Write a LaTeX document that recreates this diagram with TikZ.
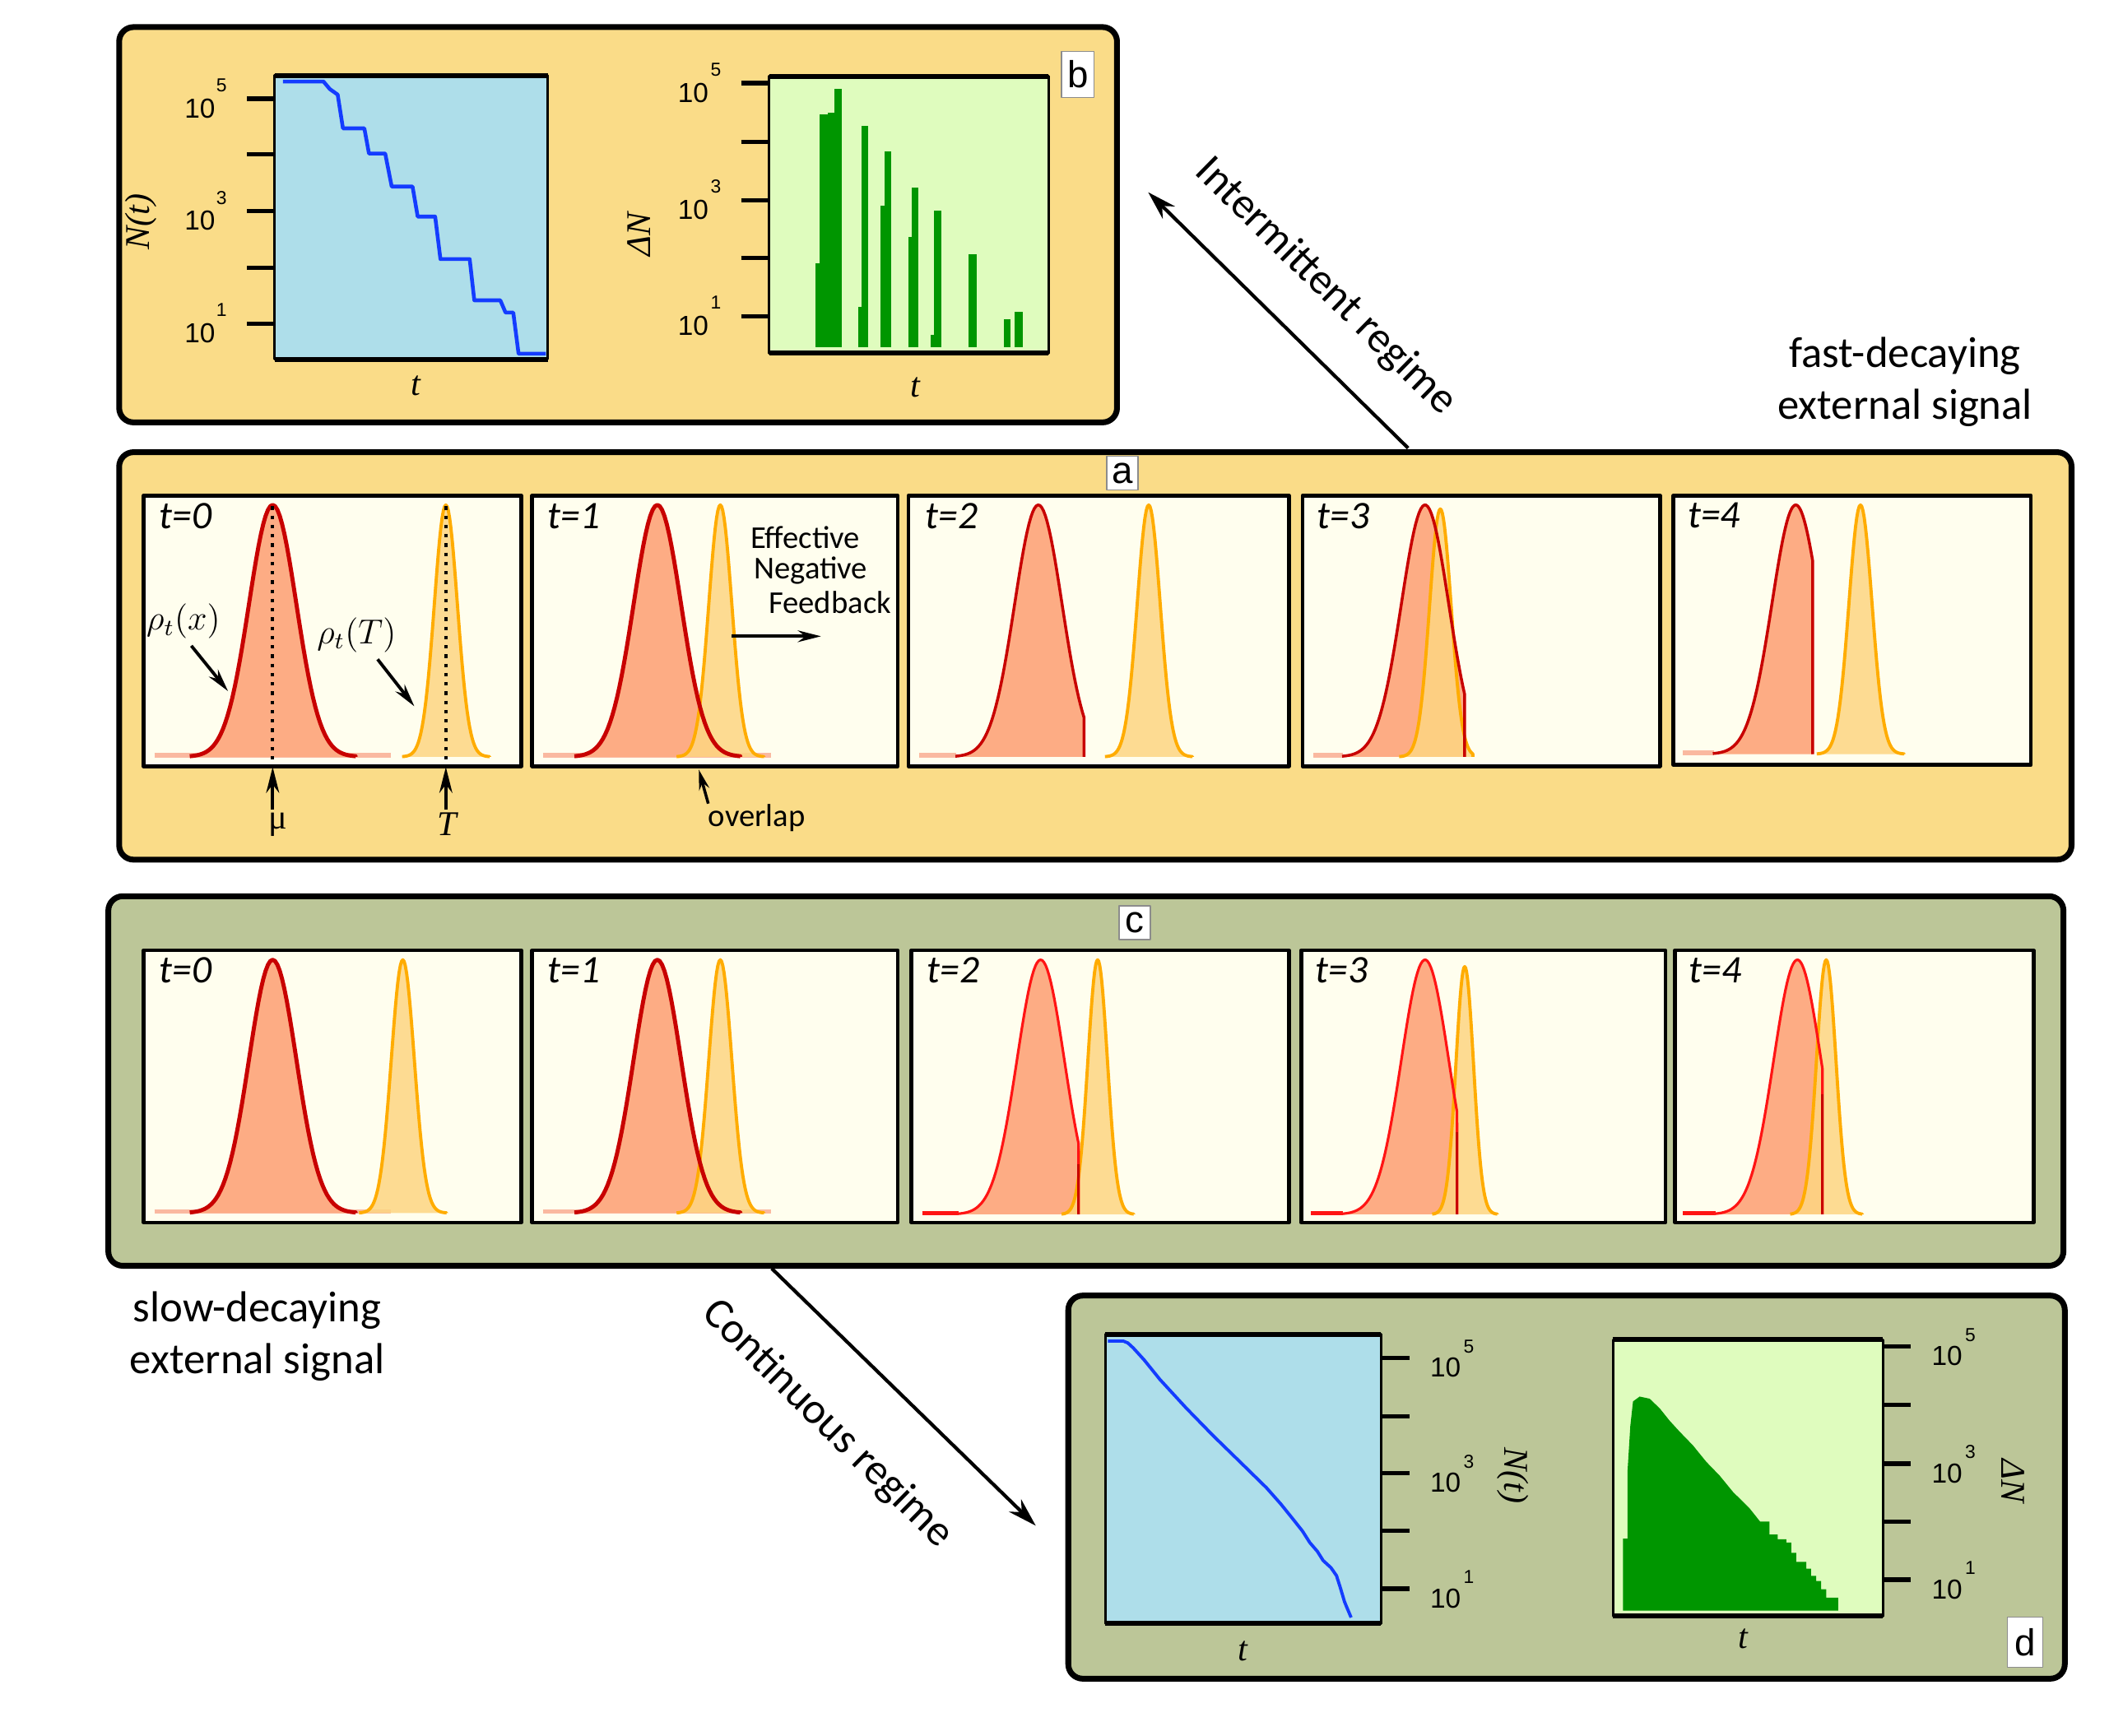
\documentclass[tikz,border=0pt]{standalone}
\usepackage{fontspec}
\setmainfont{Carlito}
\newfontfamily\lsans{Liberation Sans}
\newfontfamily\lserif{Liberation Serif}
\usetikzlibrary{arrows.meta}
\definecolor{gold}{RGB}{250,220,136}
\definecolor{olive}{RGB}{188,198,152}
\definecolor{ivory}{RGB}{255,254,238}
\definecolor{dred}{RGB}{200,0,0}
\definecolor{bred}{RGB}{255,20,20}
\definecolor{salmon}{RGB}{253,172,132}
\definecolor{orcol}{RGB}{255,172,0}
\definecolor{orfill}{RGB}{253,214,130}
\definecolor{pinkstrip}{RGB}{250,185,160}
\definecolor{lblue}{RGB}{174,222,234}
\definecolor{lgreen}{RGB}{223,252,190}
\definecolor{dgreen}{RGB}{0,150,0}
\definecolor{bline}{RGB}{20,60,255}
% #1 style, #2 cx, #3 base, #4 amp, #5 sigma, #6 lo, #7 hi
\newcommand\gfill[7]{\fill[#1] ({#2+(#6)*#5},#3) -- plot[domain=#6:#7,samples=71] ({#2+(\x)*#5},{#3-#4*exp(-0.5*(\x)*(\x))}) -- ({#2+(#7)*#5},#3) -- cycle;}
\newcommand\gline[7]{\draw[#1] plot[domain=#6:#7,samples=71] ({#2+(\x)*#5},{#3-#4*exp(-0.5*(\x)*(\x))}) -- ({#2+(#7)*#5},#3);}
\begin{document}
\begin{tikzpicture}[x=0.016454cm,y=-0.016454cm,line join=round,
  outerbox/.style={draw=black,line width=2pt,rounded corners=5pt},
  subbox/.style={draw=black,line width=1.3pt,fill=ivory},
  redA/.style={draw=dred,line width=1.4pt},
  redB/.style={draw=dred,line width=1pt},
  redC/.style={draw=bred,line width=0.9pt},
  orline/.style={draw=orcol,line width=1.1pt},
  orfl/.style={fill=orfill,fill opacity=0.85},
  pstrip/.style={draw=pinkstrip,line width=1.6pt},
  rstrip/.style={draw=bred,line width=1.6pt},
  tickl/.style={line width=1.5pt},
  tlab/.style={font=\lsans\fontsize{9.5}{9.5}\selectfont,inner sep=0pt},
  expl/.style={font=\lsans\fontsize{6.5}{6.5}\selectfont,inner sep=0pt},
  axl/.style={font=\lserif\itshape\fontsize{12}{12}\selectfont,inner sep=0pt},
  tstamp/.style={font=\itshape\fontsize{13.5}{13.5}\selectfont,inner sep=0pt},
  bigtxt/.style={font=\fontsize{15}{15}\selectfont,inner sep=0pt},
  midtxt/.style={font=\fontsize{11}{11}\selectfont,inner sep=0pt},
  rholab/.style={font=\fontsize{12}{12}\selectfont,inner sep=0pt},
  letterbox/.style={draw=black!45,fill=white,line width=0.5pt,font=\lsans\fontsize{13}{13}\selectfont,inner sep=0pt},
  smallarr/.style={-{Stealth[length=8pt,width=4pt]},line width=1.1pt},
  bigarr/.style={-{Stealth[length=10pt,width=6pt]},line width=1.2pt}]
\useasboundingbox (0,0) rectangle (1568,1282);
\fill[white] (0,0) rectangle (1568,1282);

%================ panel b ================
\draw[outerbox,fill=gold] (88,20) rectangle (825,312);
% N(t) plot
\fill[lblue] (202.8,55.7) rectangle (404.6,265.4);
\draw[bline,line width=1.3pt] (209,60.2) -- (238.9,60.2) -- (243.6,65.8) -- (249.4,69.9) -- (253.3,94.8) -- (269.1,94.8) -- (272.5,113.4) -- (284.5,113.4) -- (289.3,137.8) -- (304.7,137.8) -- (308.5,160) -- (321.4,160) -- (325.3,191.4) -- (346.9,191.4) -- (350.3,221.8) -- (369.5,221.8) -- (373.4,230.9) -- (379.1,230.9) -- (383,261.3) -- (403.1,261.3);
\draw[line width=0.8pt] (202.8,55.7) rectangle (404.6,265.4);
\draw[line width=1.7pt] (202.8,55.7) -- (404.6,55.7) (202.8,265.4) -- (404.6,265.4);
\foreach \yy in {73,114,156,198,239} \draw[tickl] (182.6,\yy) -- (202.8,\yy);
\foreach \yy/\e [count=\i] in {73/5,156/3,239/1} {
  \node[tlab] (bnl\i) at (147.6,\yy+7) {10};
  \node[expl] (bne\i) at (163.6,\yy-10) {\e};}
\node[axl,rotate=90] (bny) at (104,164) {N(t)};
\node[axl] (bnx) at (307,285) {t};
% Delta N plot
\fill[lgreen] (568,56.3) rectangle (774.5,260.9);
\foreach \xa/\xb/\tp in {602.5/605.4/194.5,605.4/611.2/84.5,611.2/616/83.1,616/621.7/65.8,633.8/636.6/226.9,636.6/641.4/93.2,650.5/653.4/151.9,653.4/658.2/111.8,670.7/673.6/174.8,673.6/678.4/138.8,687.1/689.5/247.1,689.5/695.3/155.6,715.4/721.2/188,741.3/746.6/236,749.5/755.3/230.5}
  \fill[dgreen] (\xa,\tp) rectangle (\xb,256.7);
\draw[line width=0.8pt] (568,56.3) rectangle (774.5,260.9);
\draw[line width=1.7pt] (568,56.3) -- (774.5,56.3) (568,260.9) -- (774.5,260.9);
\foreach \yy in {61.4,104.7,147.9,190.4,233.6} \draw[tickl] (547.3,\yy) -- (568,\yy);
\foreach \yy/\e [count=\i] in {61.4/5,147.9/3,233.6/1} {
  \node[tlab] (bdl\i) at (512,\yy+7) {10};
  \node[expl] (bde\i) at (528.8,\yy-10) {\e};}
\node[axl,rotate=90] (bdy) at (472,173) {ΔN};
\node[axl] (bdx) at (676,286) {t};
\node[letterbox,minimum width=0.395cm,minimum height=0.56cm] (lb) at (796,55) {b};

%================ arrows / side texts ================
\coordinate (iS) at (1040,331);
\coordinate (iE) at (848,142);
\draw[bigarr] (iS) -- (iE);
\node[bigtxt,rotate=-44.5] (intl) at (979,212) {Intermittent regime};
\node[bigtxt] (fd1) at (1407,263) {fast-decaying};
\node[bigtxt] (fd2) at (1407,301) {external signal};

%================ panel a ================
\draw[outerbox,fill=gold] (88,334) rectangle (1530,635);
\node[letterbox,minimum width=0.38cm,minimum height=0.41cm] (la) at (829,349.5) {a};
% a1
\draw[subbox] (106,366) rectangle (385,566);
\draw[pstrip] (114,558) -- (288.6,558);
\gfill{salmon}{201.4}{559}{186}{17.5}{-3.5}{3.5}
\gfill{orfl}{329.3}{559}{186}{8.5}{-3.8}{3.8}
\gline{orline}{329.3}{559}{186}{8.5}{-3.8}{3.8}
\gline{redA}{201.4}{559}{186}{17.5}{-3.5}{3.5}
\draw[dotted,line width=1.2pt] (201.4,374) -- (201.4,565);
\draw[dotted,line width=1.2pt] (329.3,374) -- (329.3,565);
\node[tstamp] (ta0) at (137,381) {t=0};
\node[rholab] (rx) at (135.5,459) {$\rho_t(x)$};
\node[rholab] (rT) at (263.4,469) {$\rho_t(T)$};
\draw[smallarr] (141.3,477) -- (168.4,510.5);
\draw[smallarr] (278.9,487) -- (306,521.7);
\node[font=\lserif\fontsize{12}{12}\selectfont,inner sep=0pt] (mu) at (205.2,609) {μ};
\node[axl] (Tl) at (330.1,609) {T};
\coordinate (muT) at (201.4,566.5);
\coordinate (TT) at (329.3,566.5);
\draw[-{Stealth[length=9pt,width=4.5pt]},line width=1.1pt] (201.4,598) -- (muT);
\draw[-{Stealth[length=9pt,width=4.5pt]},line width=1.1pt] (329.3,598) -- (TT);
% a2
\draw[subbox] (393,366) rectangle (663,566);
\draw[pstrip] (401,558) -- (569.6,558);
\gfill{salmon}{485.5}{559}{186}{17.5}{-3.5}{3.5}
\gfill{orfl}{532}{559}{186}{8.5}{-3.8}{3.8}
\gline{orline}{532}{559}{186}{8.5}{-3.8}{3.8}
\gline{redA}{485.5}{559}{186}{17.5}{-3.5}{3.5}
\node[tstamp] (ta1) at (424,381) {t=1};
\node[midtxt] (ef1) at (594.8,397) {Effective};
\node[midtxt] (ef2) at (598.7,421.4) {Negative};
\node[midtxt] (ef3) at (613,444.7) {Feedback};
\coordinate (fbS) at (540.5,470);
\coordinate (fbE) at (606.4,470);
\draw[-{Stealth[length=8pt,width=4pt]},line width=1.1pt] (fbS) -- (fbE);
\node[midtxt] (ovl) at (559,604) {overlap};
\coordinate (ovE) at (516.1,568.5);
\draw[-{Stealth[length=7pt,width=3.6pt]},line width=1pt] (523.1,593.6) -- (ovE);
% a3
\draw[subbox] (671,366) rectangle (952,566);
\draw[pstrip] (679,558) -- (706,558);
\gfill{salmon}{766.9}{559}{186}{17.5}{-3.5}{1.93}
\gfill{orfl}{848.4}{559}{186}{8.5}{-3.8}{3.8}
\gline{orline}{848.4}{559}{186}{8.5}{-3.8}{3.8}
\gline{redB}{766.9}{559}{186}{17.5}{-3.5}{1.93}
\node[tstamp] (ta2) at (703,381) {t=2};
% a4
\draw[subbox] (962,366) rectangle (1226,566);
\draw[pstrip] (970,558) -- (992,558);
\gfill{salmon}{1052.5}{559}{186}{17.5}{-3.5}{1.67}
\gfill{orfl}{1063.8}{559}{183}{8.0}{-3.8}{3.0}
\gline{orline}{1063.8}{559}{183}{8.0}{-3.8}{3.0}
\gline{redB}{1052.5}{559}{186}{17.5}{-3.5}{1.67}
\node[tstamp] (ta3) at (992,381) {t=3};
% a5
\draw[subbox] (1236,366) rectangle (1500,565);
\draw[pstrip] (1243,556) -- (1266,556);
\gfill{salmon}{1326.3}{557}{184}{17.5}{-3.5}{0.71}
\gfill{orfl}{1374.1}{557}{184}{8.5}{-3.8}{3.8}
\gline{orline}{1374.1}{557}{184}{8.5}{-3.8}{3.8}
\gline{redB}{1326.3}{557}{184}{17.5}{-3.5}{0.71}
\node[tstamp] (ta4) at (1266,381) {t=4};

%================ panel c ================
\draw[outerbox,fill=olive] (80,662) rectangle (1524,935);
\node[letterbox,minimum width=0.38cm,minimum height=0.41cm] (lc) at (838,681.5) {c};
% c1
\draw[subbox] (106,702) rectangle (385,903);
\draw[pstrip] (114,895) -- (288.6,895);
\gfill{salmon}{201.4}{896}{187}{17.5}{-3.5}{3.5}
\gfill{orfl}{297.5}{896}{187}{8.5}{-3.8}{3.8}
\gline{orline}{297.5}{896}{187}{8.5}{-3.8}{3.8}
\gline{redA}{201.4}{896}{187}{17.5}{-3.5}{3.5}
\node[tstamp] (tc0) at (137,717) {t=0};
% c2
\draw[subbox] (393,702) rectangle (663,903);
\draw[pstrip] (401,895) -- (569.6,895);
\gfill{salmon}{485.5}{896}{187}{17.5}{-3.5}{3.5}
\gfill{orfl}{532}{896}{187}{8.5}{-3.8}{3.8}
\gline{orline}{532}{896}{187}{8.5}{-3.8}{3.8}
\gline{redA}{485.5}{896}{187}{17.5}{-3.5}{3.5}
\node[tstamp] (tc1) at (424,717) {t=1};
% c3
\draw[subbox] (673,702) rectangle (952,903);
\draw[rstrip] (681,896) -- (708,896);
\gfill{salmon}{768.6}{897}{188}{17.5}{-3.5}{1.6}
\gfill{orfl}{810.7}{897}{188}{7.2}{-3.7}{3.7}
\gline{orline}{810.7}{897}{188}{7.2}{-3.7}{3.7}
\gline{redC}{768.6}{897}{188}{17.5}{-3.5}{1.6}
\draw[dred,line width=0.9pt] (796.6,860) -- (796.6,897);
\node[tstamp] (tc2) at (704,717) {t=2};
% c4
\draw[subbox] (961,702) rectangle (1230,903);
\draw[rstrip] (968,896) -- (992,896);
\gfill{salmon}{1052.5}{897}{188}{17.5}{-3.5}{1.35}
\gfill{orfl}{1081.8}{897}{183}{6.5}{-3.7}{3.7}
\gline{orline}{1081.8}{897}{183}{6.5}{-3.7}{3.7}
\gline{redC}{1052.5}{897}{188}{17.5}{-3.5}{1.35}
\draw[dred,line width=0.9pt] (1076.1,836) -- (1076.1,897);
\node[tstamp] (tc3) at (991,717) {t=3};
% c5
\draw[subbox] (1237,702) rectangle (1502,903);
\draw[rstrip] (1243,896) -- (1267,896);
\gfill{salmon}{1327.5}{897}{188}{17.5}{-3.5}{1.06}
\gfill{orfl}{1348.8}{897}{188}{7.2}{-3.7}{3.7}
\gline{orline}{1348.8}{897}{188}{7.2}{-3.7}{3.7}
\gline{redC}{1327.5}{897}{188}{17.5}{-3.5}{1.06}
\draw[dred,line width=0.9pt] (1346,808) -- (1346,897);
\node[tstamp] (tc4) at (1267,717) {t=4};

%================ continuous arrow / texts ================
\coordinate (cS) at (570,937);
\coordinate (cE) at (765,1127);
\draw[bigarr] (cS) -- (cE);
\node[bigtxt,rotate=-44.5] (conl) at (611,1052) {Continuous regime};
\node[bigtxt] (sd1) at (190,968) {slow-decaying};
\node[bigtxt] (sd2) at (190,1006) {external signal};

%================ panel d ================
\draw[outerbox,fill=olive] (789,957) rectangle (1525,1240);
% N(t)
\fill[lblue] (816.3,985.6) rectangle (1020,1199.3);
\draw[bline,line width=1.1pt] (818.3,990.6) -- (829.6,990.6) -- (833,992) -- (837,995.7) -- (845,1004.5) -- (856.7,1019) -- (876,1040) -- (896,1060.5) -- (916,1080) -- (935.4,1099) -- (946,1111) -- (955.1,1122.3) -- (962,1131) -- (967.4,1139.5) -- (973,1146) -- (977.2,1152.7) -- (983,1158) -- (987.1,1163.9) -- (990,1173) -- (993,1183.1) -- (995,1188) -- (997.9,1194.8);
\draw[line width=0.8pt] (816.3,985.6) rectangle (1020,1199.3);
\draw[line width=1.7pt] (816.3,985.6) -- (1020,985.6) (816.3,1199.3) -- (1020,1199.3);
\foreach \yy in {1003.2,1046.1,1088.3,1130.8,1173.6} \draw[tickl] (1020,\yy) -- (1041.2,\yy);
\foreach \yy/\e [count=\i] in {1003.2/5,1088.3/3,1173.6/1} {
  \node[tlab] (dnl\i) at (1067.6,\yy+7) {10};
  \node[expl] (dne\i) at (1084.8,\yy-8.5) {\e};}
\node[axl,rotate=-90] (dny) at (1117.5,1090) {N(t)};
\node[axl] (dnx) at (918.2,1219.6) {t};
% Delta N
\fill[lgreen] (1191.3,989.6) rectangle (1390.6,1193.8);
\fill[dgreen] (1198.7,1189.8) -- (1198.7,1136.5) -| (1202.1,1085.9) -- (1204.1,1053.4) -- (1206.1,1035.2) -- (1211,1031.6) -- (1218.4,1033.2) -- (1225.8,1040.3) -- (1233.1,1049.4) -- (1240.5,1057.5) -- (1250.3,1067.6) -- (1260.2,1079.8) -- (1270,1089.9) -- (1279.9,1102) -- (1292.2,1114.2) -- (1300,1124) -| (1306.9,1133.5) -| (1313,1137) -| (1319.3,1139.5) -| (1323,1147) -| (1326.6,1153.7) -| (1334,1158.8) -| (1337.5,1164) -| (1341.4,1167.9) -| (1345,1174) -| (1348.8,1180.1) -| (1357.6,1189.8) -- cycle;
\draw[line width=0.8pt] (1191.3,989.6) rectangle (1390.6,1193.8);
\draw[line width=1.7pt] (1191.3,989.6) -- (1390.6,989.6) (1191.3,1193.8) -- (1390.6,1193.8);
\foreach \yy in {994.7,1037.8,1081.2,1123.9,1166.9} \draw[tickl] (1390.6,\yy) -- (1411.3,\yy);
\foreach \yy/\e [count=\i] in {994.7/5,1081.2/3,1166.9/1} {
  \node[tlab] (ddl\i) at (1438,\yy+7) {10};
  \node[expl] (dde\i) at (1455.3,\yy-8.5) {\e};}
\node[axl,rotate=-90] (ddy) at (1486.6,1094) {ΔN};
\node[axl] (ddx) at (1287.2,1210.5) {t};
\node[letterbox,minimum width=0.43cm,minimum height=0.61cm] (ld) at (1495.6,1213) {d};
\end{tikzpicture}
\end{document}
